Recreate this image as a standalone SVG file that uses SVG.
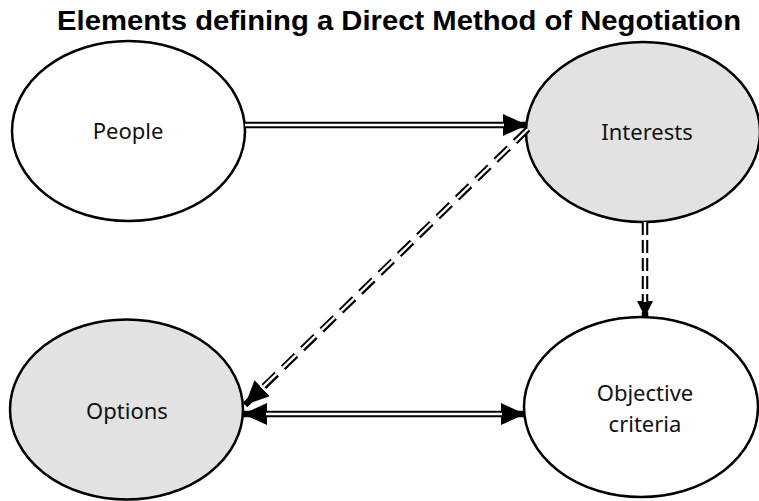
<svg xmlns="http://www.w3.org/2000/svg" width="759" height="501" viewBox="0 0 759 501">
<style>
.node{stroke:#000;stroke-width:2.5}
.white{fill:#fff}
.gray{fill:#e2e2e2}
.lbl{font-family:"Noto Sans","Open Sans","DejaVu Sans",sans-serif;font-size:22px;fill:#111;text-anchor:middle}
.title{font-family:"Liberation Sans",Arial,sans-serif;font-weight:bold;font-size:27.5px;fill:#000}
.outer{fill:none;stroke:#000;stroke-width:6.5}
.inner{fill:none;stroke:#fff;stroke-width:2.4}
</style>
<defs>
<marker id="ah" markerUnits="userSpaceOnUse" markerWidth="26" markerHeight="24" refX="24" refY="11" orient="auto-start-reverse">
<path d="M0,0 L24,11 L0,22 z" fill="#000"/>
</marker>
<marker id="ahs" markerUnits="userSpaceOnUse" markerWidth="18" markerHeight="18" refX="16" refY="8" orient="auto">
<path d="M0,0 L16,8 L0,16 z" fill="#000"/>
</marker>
</defs>
<rect width="759" height="501" fill="#fff"/>
<text class="title" x="57" y="30" textLength="684" lengthAdjust="spacingAndGlyphs">Elements defining a Direct Method of Negotiation</text>
<g id="people"><ellipse class="node white" cx="128.5" cy="131" rx="116.5" ry="90"/><text class="lbl" x="128" y="139">People</text></g>
<g id="interests"><ellipse class="node gray" cx="643" cy="132" rx="117" ry="90"/><text class="lbl" x="647" y="140">Interests</text></g>
<g id="options"><ellipse class="node gray" cx="126.5" cy="409.5" rx="116.5" ry="90"/><text class="lbl" x="127" y="419">Options</text></g>
<g id="objective"><ellipse class="node white" cx="641" cy="407" rx="117" ry="90"/><text class="lbl" x="645" y="401">Objective</text><text class="lbl" x="645" y="432">criteria</text></g>
<g id="connectors">
<path class="outer" d="M245,125 L527,125" marker-end="url(#ah)"/>
<path class="inner" d="M245,125 L504,125"/>
<path class="outer" d="M528,129 L245,405" stroke-dasharray="18 9" marker-end="url(#ah)"/>
<path class="inner" d="M528,129 L262,388" stroke-dasharray="18 9"/>
<path class="outer" d="M645,222 L645,317" stroke-dasharray="13 5" marker-end="url(#ahs)"/>
<path class="inner" d="M645,222 L645,302" stroke-dasharray="13 5"/>
<path class="outer" d="M243,414 L525,414" marker-start="url(#ah)" marker-end="url(#ah)"/>
<path class="inner" d="M266,414 L502,414"/>
</g>
</svg>
